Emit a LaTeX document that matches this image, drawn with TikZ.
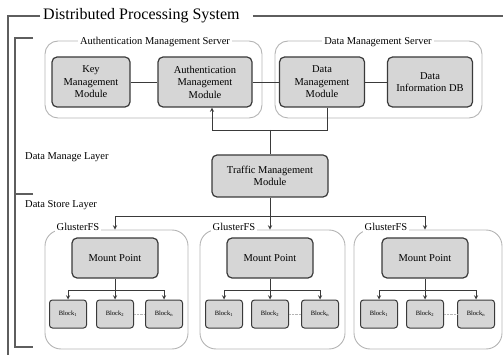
\documentclass[tikz,border=0pt]{standalone}
\usepackage{fontspec}
\setmainfont{Liberation Serif}
\definecolor{boxfill}{HTML}{D6D6D6}
\definecolor{boxline}{HTML}{3A3A3A}
\definecolor{frameline}{HTML}{B4B4B4}
\definecolor{bracketline}{HTML}{5E5E5E}
\begin{document}
\begin{tikzpicture}[x=1pt,y=-1pt,>=stealth,
  module/.style={draw=boxline, line width=1.2pt, fill=boxfill, rounded corners=5pt, align=center, inner sep=1pt, font=\fontsize{10.5}{12.5}\selectfont},
  server/.style={draw=frameline, line width=0.9pt, rounded corners=13pt},
  tag/.style={fill=white, inner sep=2pt, font=\fontsize{10.5}{12}\selectfont},
  blk/.style={draw=boxline, line width=1pt, fill=boxfill, rounded corners=3pt, minimum width=37pt, minimum height=28pt, inner sep=0pt, font=\fontsize{6.5}{7}\selectfont},
  link/.style={draw=boxline, line width=0.9pt},
  bracket/.style={draw=bracketline, line width=1.3pt}]
\useasboundingbox (0,0) rectangle (503,355);

% outer frame and layers
\node[anchor=west, inner sep=3pt, font=\fontsize{16}{18}\selectfont] (title) at (40,16) {Distributed Processing System};
\coordinate (obl) at (8,356);
\coordinate (otr) at (504,16);
\draw[bracket] (title.west) -| (obl);
\draw[bracket] ([xshift=10pt]title.east) -- (otr);
\coordinate (mtop) at (33,38);
\coordinate (mbot) at (33,347);
\coordinate (msep) at (33,194);
\draw[bracket] (mtop) -- ++(-18,0) |- (mbot);
\draw[bracket] (msep) -- ++(-18,0);
\node[anchor=west, tag] (mlayer) at (23,157) {Data Manage Layer};
\node[anchor=west, tag] (slayer) at (23,205) {Data Store Layer};

% servers
\node[server, minimum width=217pt, minimum height=77pt] (asrv) at (153.5,79.5) {};
\node[server, minimum width=207pt, minimum height=77pt] (dsrv) at (378.5,79.5) {};
\node[tag] (asrvlbl) at (155,42) {Authentication Management Server};
\node[tag] (dsrvlbl) at (378,42) {Data Management Server};

\node[module, minimum width=78pt, minimum height=50pt] (key) at (91,82) {Key\\Management\\Module};
\node[module, minimum width=94pt, minimum height=50pt] (auth) at (205,82) {Authentication\\Management\\Module};
\node[module, minimum width=85pt, minimum height=50pt] (dmm) at (322,82) {Data\\Management\\Module};
\node[module, minimum width=85pt, minimum height=50pt] (dib) at (430,82) {Data\\Information DB};
\node[module, minimum width=116pt, minimum height=42pt] (traffic) at (270,176) {Traffic Management\\Module};

\draw[link] (key) -- (auth);
\draw[link] (auth) -- (dmm);
\draw[link] (dmm) -- (dib);
\coordinate (busA) at (270,130);
\draw[link, ->] (busA) -| ([xshift=7pt]auth.south);
\draw[link] (busA) -| ([xshift=5pt]dmm.south);
\draw[link] (busA) -- (traffic.north);

% storage
\node[server, rounded corners=16pt, minimum width=143pt, minimum height=119pt] (gA) at (116.5,289.5) {};
\node[server, rounded corners=16pt, minimum width=145pt, minimum height=119pt] (gB) at (272.5,289.5) {};
\node[server, rounded corners=16pt, minimum width=148pt, minimum height=119pt] (gC) at (428,289.5) {};
\node[tag] (gAl) at (78,227) {GlusterFS};
\node[tag] (gBl) at (234,227) {GlusterFS};
\node[tag] (gCl) at (386,227) {GlusterFS};

\node[module, minimum width=86pt, minimum height=40pt] (mpA) at (115,258) {Mount Point};
\node[module, minimum width=86pt, minimum height=40pt] (mpB) at (270,258) {Mount Point};
\node[module, minimum width=86pt, minimum height=40pt] (mpC) at (425,258) {Mount Point};

\coordinate (busB) at (270,216);
\draw[link] (traffic) -- (busB);
\draw[link, ->] (busB) -| (mpA.north |- gA.north);
\draw[link, ->] (busB) -- (mpB.north |- gB.north);
\draw[link, ->] (busB) -| (mpC.north |- gC.north);

\node[blk] (bA1) at (68,314) {Block\textsubscript{1}};
\node[blk] (bA2) at (115,314) {Block\textsubscript{2}};
\node[blk] (bA3) at (164,314) {Block\textsubscript{n}};
\node[blk] (bB1) at (224,314) {Block\textsubscript{1}};
\node[blk] (bB2) at (270,314) {Block\textsubscript{2}};
\node[blk] (bB3) at (320,314) {Block\textsubscript{n}};
\node[blk] (bC1) at (379,314) {Block\textsubscript{1}};
\node[blk] (bC2) at (425,314) {Block\textsubscript{2}};
\node[blk] (bC3) at (476,314) {Block\textsubscript{n}};

\coordinate (tA) at (115,290);
\coordinate (tB) at (270,290);
\coordinate (tC) at (425,290);
\draw[link] (mpA) -- (tA);
\draw[link, ->] (tA) -| (bA1);
\draw[link, ->] (tA) -- (bA2);
\draw[link, ->] (tA) -| (bA3);
\draw[link] (mpB) -- (tB);
\draw[link, ->] (tB) -| (bB1);
\draw[link, ->] (tB) -- (bB2);
\draw[link, ->] (tB) -| (bB3);
\draw[link] (mpC) -- (tC);
\draw[link, ->] (tC) -| (bC1);
\draw[link, ->] (tC) -- (bC2);
\draw[link, ->] (tC) -| (bC3);
\draw[frameline, densely dotted] (bA2) -- (bA3);
\draw[frameline, densely dotted] (bB2) -- (bB3);
\draw[frameline, densely dotted] (bC2) -- (bC3);
\end{tikzpicture}
\end{document}
